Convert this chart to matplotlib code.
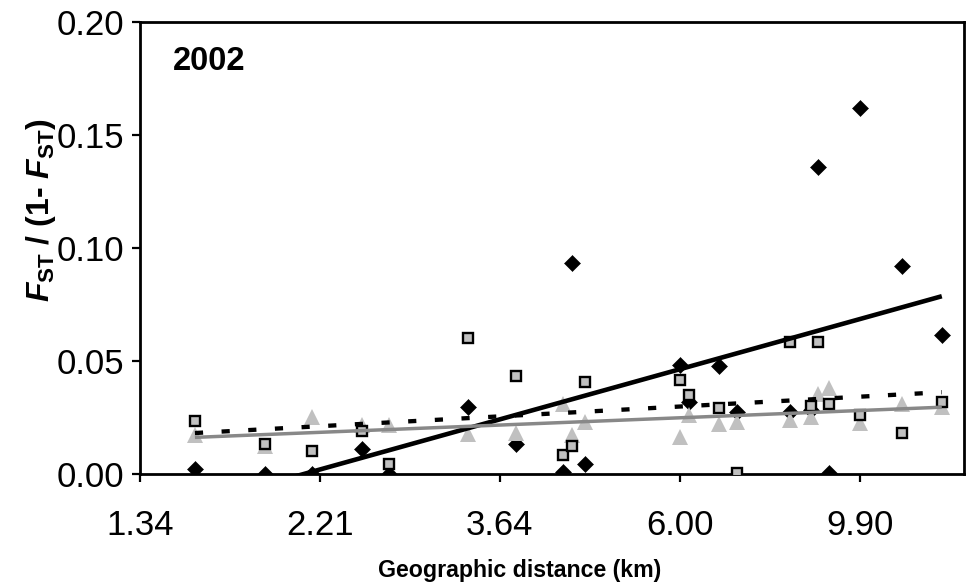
import numpy as np
import matplotlib
matplotlib.use("Agg")
import matplotlib.pyplot as plt
from matplotlib.ticker import NullLocator, FixedLocator, FixedFormatter

plt.rcParams["font.family"] = ["Liberation Sans", "DejaVu Sans"]
plt.rcParams["mathtext.fontset"] = "custom"
plt.rcParams["mathtext.it"] = "Liberation Sans:italic:bold"
plt.rcParams["mathtext.rm"] = "Liberation Sans:bold"
plt.rcParams["mathtext.bf"] = "Liberation Sans:bold"

# Pairwise geographic distances between sampling sites (km)
distance_km = [1.561, 1.899, 2.158, 2.486, 2.676, 3.333, 3.813, 4.339, 4.449,
               4.613, 6.006, 6.158, 6.702, 7.035, 8.153, 8.642, 8.824, 9.086,
               9.916, 11.13, 12.43]

# Linearised FST, FST / (1 - FST), for three marker sets
fst_diamond = [0.0021, 0.0, 0.0, 0.0111, 0.0, 0.0295, 0.0131, 0.0008, 0.0932,
               0.0043, 0.0481, 0.0320, 0.0478, 0.0273, 0.0276, 0.0283, 0.1357,
               0.0006, 0.1621, 0.0920, 0.0615]
fst_square = [0.0233, 0.0135, 0.0103, 0.0190, 0.0046, 0.0600, 0.0434, 0.0085,
              0.0125, 0.0407, 0.0416, 0.0350, 0.0293, 0.0006, 0.0584, 0.0301,
              0.0584, 0.0310, 0.0261, 0.0181, 0.0320]
fst_triangle = [0.0171, 0.0125, 0.0254, 0.0215, 0.0218, 0.0179, 0.0182, 0.0312,
                0.0171, 0.0231, 0.0165, 0.0261, 0.0221, 0.0231, 0.0239, 0.0254,
                0.0354, 0.0380, 0.0227, 0.0312, 0.0296]

xtick_values = [1.34, 2.21, 3.64, 6.00, 9.90]
xtick_labels = ["1.34", "2.21", "3.64", "6.00", "9.90"]
ytick_values = [0.0, 0.05, 0.10, 0.15, 0.20]
year_label = "2002"

fig = plt.figure(figsize=(9.7, 5.85), dpi=100)
ax = fig.add_axes([0.1443, 0.1897, 0.8495, 0.7727])

x = np.array(distance_km)
lx = np.log(x)

# scatter points
ax.plot(x, fst_diamond, linestyle="none", marker="D", ms=8.5, mfc="black",
        mec="black", mew=0.4, zorder=3)
ax.plot(x, fst_triangle, linestyle="none", marker="^", ms=11.5, mfc="#c0c0c0",
        mec="#c0c0c0", mew=0, zorder=4)
ax.plot(x, fst_square, linestyle="none", marker="s", ms=7.8, mfc="#c0c0c0",
        mec="black", mew=1.7, zorder=5)

# least-squares trend lines against ln(distance)
xs = np.array([x.min(), x.max()])


def trend(values):
    slope, intercept = np.polyfit(lx, np.array(values), 1)
    return slope * np.log(xs) + intercept


ax.plot(xs, trend(fst_diamond), color="black", lw=3.3, zorder=6,
        solid_capstyle="butt")
ax.plot(xs, trend(fst_square), color="black", lw=3.1, zorder=6,
        dashes=(1.9, 4.3), dash_capstyle="butt")
ax.plot(xs, trend(fst_triangle), color="#888888", lw=2.5, zorder=7,
        solid_capstyle="butt")

ax.set_xscale("log")
ax.set_xlim(1.34, 13.22)
ax.set_ylim(0, 0.20)
ax.xaxis.set_major_locator(FixedLocator(xtick_values))
ax.xaxis.set_major_formatter(FixedFormatter(xtick_labels))
ax.xaxis.set_minor_locator(NullLocator())
ax.set_yticks(ytick_values)
ax.set_yticklabels([f"{v:.2f}" for v in ytick_values])

for s in ax.spines.values():
    s.set_linewidth(2.0)
ax.tick_params(axis="both", which="major", direction="out", width=1.6,
               labelsize=25)
ax.tick_params(axis="y", length=6, pad=5)
ax.tick_params(axis="x", length=6, pad=19)

ax.text(0.0397, 0.894, year_label, transform=ax.transAxes, fontsize=23.5,
        fontweight="bold", ha="left", va="baseline")

fig.text(0.042, 0.641, r"$\mathit{F}_{\mathrm{ST}}$ / (1- $\mathit{F}_{\mathrm{ST}}$)",
         rotation=90, ha="center", va="center", fontsize=23, fontweight="bold")
fig.text(0.5356, 0.0142, "Geographic distance (km)", ha="center",
         va="baseline", fontsize=16.7, fontweight="bold")

fig.savefig("out.png", dpi=100)
